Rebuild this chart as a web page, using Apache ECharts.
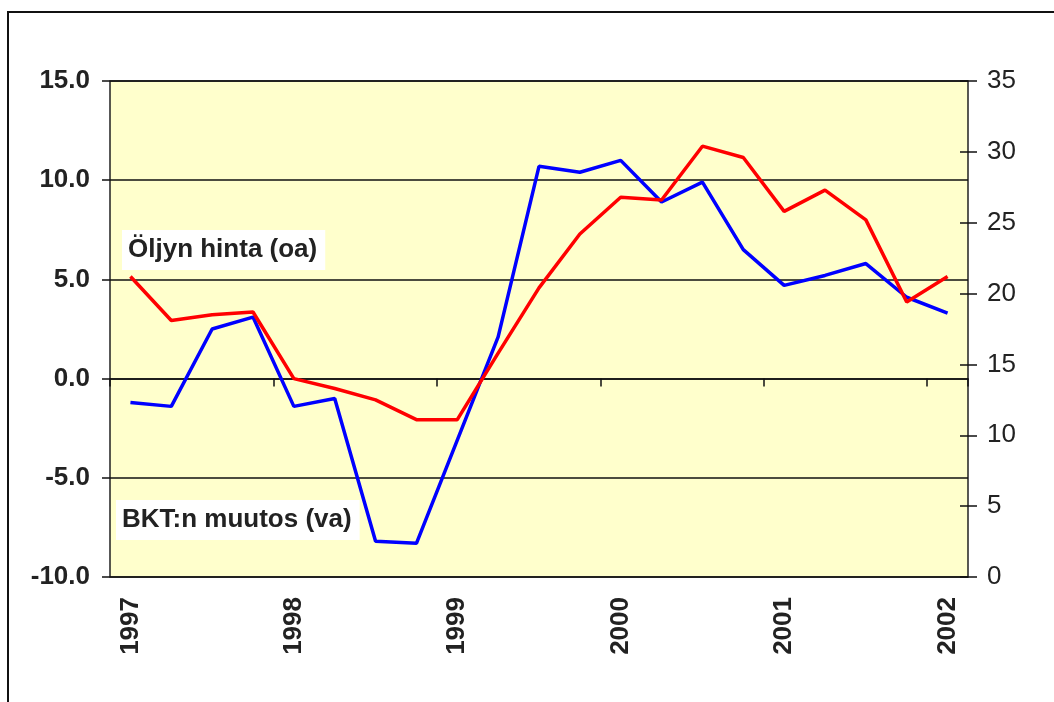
<!DOCTYPE html>
<html>
<head>
<meta charset="utf-8">
<title>BKT ja öljyn hinta</title>
<script src="https://cdn.jsdelivr.net/npm/echarts@6/dist/echarts.min.js"></script>
<style>
  html, body { margin: 0; padding: 0; background: #fff; }
  #chart { width: 1054px; height: 702px; }
</style>
</head>
<body>
<div id="chart"></div>
<script>
// quarters 1997Q1 .. 2002Q1
var quarters = ['1997 Q1', '1997 Q2', '1997 Q3', '1997 Q4',
  '1998 Q1', '1998 Q2', '1998 Q3', '1998 Q4',
  '1999 Q1', '1999 Q2', '1999 Q3', '1999 Q4',
  '2000 Q1', '2000 Q2', '2000 Q3', '2000 Q4',
  '2001 Q1', '2001 Q2', '2001 Q3', '2001 Q4',
  '2002 Q1']

// BKT:n muutos, left axis (va)
var bktMuutos = [-1.2, -1.4, 2.5, 3.1, -1.4, -1.0, -8.2, -8.3, -3.1, 2.1,
  10.7, 10.4, 11.0, 8.9, 9.9, 6.5, 4.7, 5.2, 5.8, 4.1, 3.3]

// Öljyn hinta, right axis (oa)
var oljynHinta = [21.2, 18.1, 18.5, 18.7, 14.0, 13.3, 12.5, 11.1, 11.1, 15.8,
  20.4, 24.2, 26.8, 26.6, 30.4, 29.6, 25.8, 27.3, 25.2, 19.4, 21.2]

var leftTicks = [-10, 15, 5]   // min, max, interval
var rightTicks = [0, 35, 5]

var fontFamily = '"Liberation Sans", Arial, sans-serif'
var textColor = '#222'

var chart = echarts.init(document.getElementById('chart'))

var option = {
  animation: false,
  backgroundColor: '#fff',
  textStyle: { fontFamily: fontFamily },
  grid: {
    left: 110,
    right: 86,
    top: 81,
    bottom: 125,
    show: true,
    backgroundColor: '#FFFFCC',
    borderColor: '#222',
    borderWidth: 1.5
  },
  xAxis: [{
    type: 'category',
    data: quarters,
    boundaryGap: true,
    axisLine: { show: false, onZero: false },
    axisTick: { show: false },
    axisLabel: {
      interval: 3,
      rotate: 90,
      margin: 20,
      color: textColor,
      fontSize: 26,
      fontWeight: 'bold',
      fontFamily: fontFamily,
      formatter: function (v) { return v.slice(0, 4) }
    },
    splitLine: { show: false }
  }, {
    // zero line with year ticks
    type: 'category',
    data: quarters,
    position: 'bottom',
    boundaryGap: true,
    axisLine: { show: true, onZero: true, onZeroAxisIndex: 0, lineStyle: { color: '#111', width: 1.5 } },
    axisTick: { show: true, interval: 3, length: 8, lineStyle: { color: '#111', width: 1.5 } },
    axisLabel: { show: false },
    splitLine: { show: false }
  }],
  yAxis: [{
    type: 'value',
    position: 'left',
    min: leftTicks[0],
    max: leftTicks[1],
    interval: leftTicks[2],
    axisLine: { show: false },
    axisTick: { show: true, length: 8, lineStyle: { color: '#111', width: 1.5 } },
    axisLabel: {
      margin: 20,
      color: textColor,
      fontSize: 26,
      fontWeight: 'bold',
      fontFamily: fontFamily,
      formatter: function (v) { return v.toFixed(1) }
    },
    splitLine: { show: true, lineStyle: { color: '#111', width: 1.5 } }
  }, {
    type: 'value',
    position: 'right',
    min: rightTicks[0],
    max: rightTicks[1],
    interval: rightTicks[2],
    axisLine: { show: false },
    axisTick: { show: true, length: 9, lineStyle: { color: '#111', width: 1.5 } },
    axisLabel: {
      margin: 19,
      color: textColor,
      fontSize: 26,
      fontFamily: fontFamily
    },
    splitLine: { show: false }
  }, {
    // inner half of the crossing ticks on the right
    type: 'value',
    position: 'right',
    min: rightTicks[0],
    max: rightTicks[1],
    interval: rightTicks[2],
    axisLine: { show: false },
    axisTick: { show: true, inside: true, length: 8, lineStyle: { color: '#111', width: 1.5 } },
    axisLabel: { show: false },
    splitLine: { show: false }
  }],
  series: [{
    name: 'BKT:n muutos (va)',
    type: 'line',
    xAxisIndex: 0,
    yAxisIndex: 0,
    data: bktMuutos,
    symbol: 'none',
    lineStyle: { color: '#0000FF', width: 3.5 },
    itemStyle: { color: '#0000FF' }
  }, {
    name: 'Öljyn hinta (oa)',
    type: 'line',
    xAxisIndex: 0,
    yAxisIndex: 1,
    data: oljynHinta,
    symbol: 'none',
    lineStyle: { color: '#FF0000', width: 3.5 },
    itemStyle: { color: '#FF0000' }
  }],
  graphic: [{
    type: 'rect',
    silent: true,
    shape: { x: 8, y: 12, width: 1100, height: 800 },
    style: { fill: 'none', stroke: '#111', lineWidth: 2 }
  }, {
    type: 'text',
    silent: true,
    left: 122,
    top: 230,
    style: {
      text: 'Öljyn hinta (oa)',
      fill: textColor,
      font: 'bold 26px ' + fontFamily,
      backgroundColor: '#fff',
      padding: [7, 8, 7, 6]
    }
  }, {
    type: 'text',
    silent: true,
    left: 116,
    top: 500,
    style: {
      text: 'BKT:n muutos (va)',
      fill: textColor,
      font: 'bold 26px ' + fontFamily,
      backgroundColor: '#fff',
      padding: [7, 8, 7, 6]
    }
  }]
}

chart.setOption(option)
</script>
</body>
</html>
